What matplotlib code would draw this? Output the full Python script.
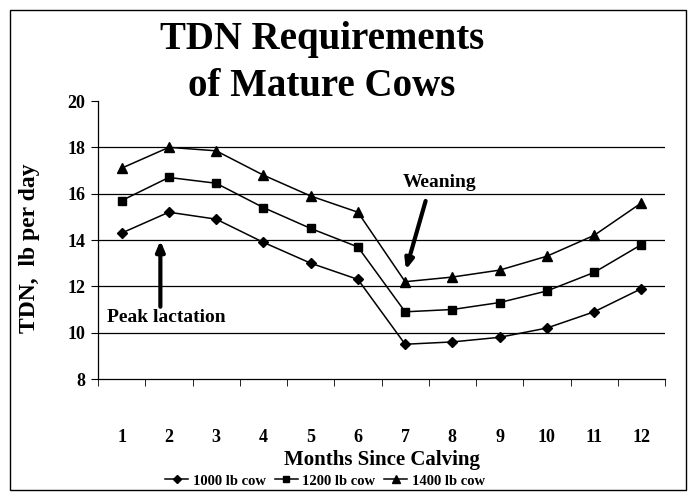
import matplotlib.pyplot as plt
from matplotlib.patches import Rectangle

months = list(range(1, 13))
cow_1000 = [14.3, 15.2, 14.9, 13.9, 13.0, 12.3, 9.5, 9.6, 9.8, 10.2, 10.9, 11.9]
cow_1200 = [15.7, 16.7, 16.45, 15.4, 14.5, 13.7, 10.9, 11.0, 11.3, 11.8, 12.6, 13.8]
cow_1400 = [17.1, 18.0, 17.85, 16.8, 15.9, 15.2, 12.2, 12.4, 12.7, 13.3, 14.2, 15.6]
series_labels = ['1000 lb cow', '1200 lb cow', '1400 lb cow']
y_ticks = [8, 10, 12, 14, 16, 18, 20]

plt.rcParams['font.family'] = ['Liberation Serif', 'DejaVu Serif']
plt.rcParams['font.weight'] = 'bold'

fig = plt.figure(figsize=(6.97, 4.96), dpi=100)
ax = fig.add_axes([98 / 697, 1 - 379 / 496, 567 / 697, 278 / 496])

# horizontal gridlines
for y in y_ticks[1:-1]:
    ax.axhline(y, color='black', lw=0.9, zorder=0)

ax.plot(months, cow_1000, color='black', lw=1.1, marker='D', ms=5, label=series_labels[0])
ax.plot(months, cow_1200, color='black', lw=1.1, marker='s', ms=6, label=series_labels[1])
ax.plot(months, cow_1400, color='black', lw=1.1, marker='^', ms=6.5, label=series_labels[2])

ax.set_xlim(0.5, 12.5)
ax.set_ylim(8, 20)
ax.set_yticks(y_ticks)
ax.set_xticks(months)
ax.set_xticks([m + 0.5 for m in range(0, 13)], minor=True)
ax.tick_params(axis='x', which='major', length=0, pad=36, labelsize=13)
ax.tick_params(axis='x', which='minor', length=5, direction='out')
ax.tick_params(axis='y', length=5, direction='out', labelsize=13, pad=4)
for side in ['top', 'right']:
    ax.spines[side].set_visible(False)
ax.spines['left'].set_linewidth(0.9)
ax.spines['bottom'].set_linewidth(0.9)

fig.text(382 / 697, 1 - 460 / 496, 'Months Since Calving', fontsize=15,
         fontweight='bold', ha='center', va='center')
fig.text(30 / 697, 1 - 248 / 496, 'TDN,  lb per day', rotation=90, fontsize=17,
         fontweight='bold', ha='center', va='center')

# title
fig.text(322 / 697, 1 - 40 / 496, 'TDN Requirements', fontsize=28, fontweight='bold',
         ha='center', va='center')
fig.text(322 / 697, 1 - 87 / 496, 'of Mature Cows', fontsize=28, fontweight='bold',
         ha='center', va='center')

# annotations
ax.annotate('', xy=(1.82, 14.1), xytext=(1.82, 11.0),
            arrowprops=dict(arrowstyle='-|>,head_width=0.25,head_length=0.6',
                            color='black', lw=3))
ax.text(0.68, 10.65, 'Peak lactation', fontsize=14, fontweight='bold', ha='left', va='center')
ax.annotate('', xy=(7.0, 12.6), xytext=(7.45, 15.8),
            arrowprops=dict(arrowstyle='-|>,head_width=0.25,head_length=0.6',
                            color='black', lw=3))
ax.text(7.72, 16.5, 'Weaning', fontsize=14, fontweight='bold', ha='center', va='center')

leg = fig.legend(loc='center', bbox_to_anchor=(325 / 697, 1 - 481 / 496), ncol=3,
                 frameon=False, fontsize=10.5, handlelength=1.6, handletextpad=0.3,
                 columnspacing=0.6, markerscale=0.8)

# outer frame
fig.patches.append(Rectangle((10 / 697, 1 - 490 / 496), 676 / 697, 480 / 496,
                             transform=fig.transFigure, fill=False, ec='black', lw=1.0))

plt.savefig('out.png', dpi=100)
